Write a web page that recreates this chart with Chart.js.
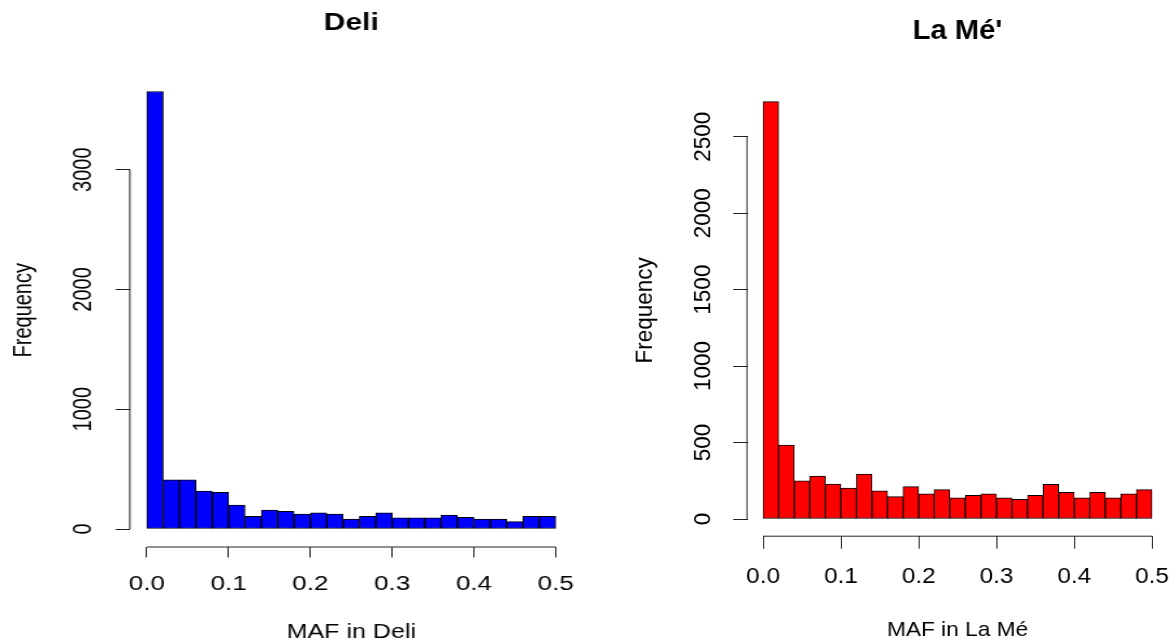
<!DOCTYPE html>
<html>
<head>
<meta charset="utf-8">
<script src="https://cdn.jsdelivr.net/npm/chart.js@4.4.1/dist/chart.umd.min.js"></script>
<style>
  html, body { margin: 0; padding: 0; background: #fff; }
  body { width: 1176px; height: 644px; position: relative; overflow: hidden; }
  .panel { position: absolute; top: 0; transform-origin: 0 0; }
  /* the saved R plots were widened when exported, text included */
  #deliPanel { left: 0; transform: scaleX(1.3); }
  #lamePanel { left: 600px; transform: scaleX(1.08); }
  canvas { display: block; }
</style>
</head>
<body>
<div class="panel" id="deliPanel"><canvas id="deliChart" width="452" height="644"></canvas></div>
<div class="panel" id="lamePanel"><canvas id="lameChart" width="534" height="644"></canvas></div>
<script>
// MAF histogram, 25 bins of width 0.02 between 0 and 0.5
const binMids = [0.01, 0.03, 0.05, 0.07, 0.09, 0.11, 0.13, 0.15, 0.17, 0.19,
                 0.21, 0.23, 0.25, 0.27, 0.29, 0.31, 0.33, 0.35, 0.37, 0.39,
                 0.41, 0.43, 0.45, 0.47, 0.49]
const deliCounts = [3653, 411, 411, 317, 306, 200, 106, 158, 147, 125,
                    136, 125, 83, 106, 136, 94, 94, 94, 117, 97,
                    83, 83, 61, 106, 106]
const lameCounts = [2729, 484, 249, 281, 229, 203, 293, 185, 146, 212,
                    164, 192, 138, 155, 164, 138, 129, 155, 227, 175,
                    138, 175, 138, 164, 192]

const mafTicks = [0, 0.1, 0.2, 0.3, 0.4, 0.5]
const mafTickLabels = ['0.0', '0.1', '0.2', '0.3', '0.4', '0.5']
const deliFreqTicks = [0, 1000, 2000, 3000]
const lameFreqTicks = [0, 500, 1000, 1500, 2000, 2500]

Chart.defaults.font.family = "'Liberation Sans', Arial, sans-serif"
Chart.defaults.color = '#000'

/* axis line only between first and last tick, like base R graphics */
const axisLines = {
    id: 'axisLines',
    afterDraw(chart) {
        const { ctx, chartArea, scales: { x, y } } = chart
        const x0 = x.getPixelForValue(x.ticks[0].value)
        const x1 = x.getPixelForValue(x.ticks[x.ticks.length - 1].value)
        const y0 = y.getPixelForValue(y.ticks[0].value)
        const y1 = y.getPixelForValue(y.ticks[y.ticks.length - 1].value)
        ctx.save()
        ctx.strokeStyle = '#222'
        ctx.lineWidth = 1
        ctx.beginPath()
        ctx.moveTo(x0, chartArea.bottom + 0.5)
        ctx.lineTo(x1, chartArea.bottom + 0.5)
        ctx.moveTo(chartArea.left - 0.5, y0)
        ctx.lineTo(chartArea.left - 0.5, y1)
        ctx.stroke()
        ctx.restore()
    }
}

function histogram(canvasId, counts, fill, o) {
    const top = Math.max(...counts)
    return new Chart(document.getElementById(canvasId), {
        type: 'bar',
        data: {
            datasets: [{
                data: binMids.map((m, i) => ({ x: m, y: counts[i] })),
                backgroundColor: fill,
                borderColor: '#000',
                borderWidth: 1,
                borderSkipped: false,
                barPercentage: 1,
                categoryPercentage: 1
            }]
        },
        options: {
            responsive: false,
            animation: false,
            layout: { padding: { left: 0, right: o.padRight, top: 0, bottom: 0 } },
            plugins: {
                legend: { display: false },
                tooltip: { enabled: false },
                title: {
                    display: true,
                    text: o.title,
                    fullSize: false,
                    color: '#000',
                    font: { size: o.titleSize, weight: 'bold' },
                    padding: o.titlePad
                }
            },
            scales: {
                x: {
                    type: 'linear',
                    offset: false,
                    min: -0.02,
                    max: 0.52,
                    afterBuildTicks: s => { s.ticks = mafTicks.map(v => ({ value: v })) },
                    afterFit: s => { s.height = o.xAxisHeight },
                    border: { display: false },
                    grid: { drawOnChartArea: false, offset: false, tickLength: o.xTickLen, color: '#222' },
                    ticks: {
                        autoSkip: false,
                        maxRotation: 0,
                        padding: 0,
                        // tall line box pushes the labels down without widening the side padding
                        font: { size: o.fontSize, lineHeight: o.xLabelLine },
                        callback: (v, i) => mafTickLabels[i]
                    },
                    title: {
                        display: true,
                        text: o.xTitle,
                        font: { size: o.xTitleSize },
                        padding: { top: 0, bottom: o.xTitlePad }
                    }
                },
                y: {
                    min: -0.04 * top,
                    max: 1.04 * top,
                    afterBuildTicks: s => { s.ticks = o.yTicks.map(v => ({ value: v })) },
                    afterFit: s => { s.width = o.yAxisWidth },
                    border: { display: false },
                    grid: { drawOnChartArea: false, tickLength: o.yTickLen, color: '#222' },
                    ticks: {
                        autoSkip: false,
                        minRotation: 90,
                        maxRotation: 90,
                        crossAlign: 'center',
                        padding: o.yLabelPad,
                        font: { size: o.fontSize },
                        callback: v => String(v)
                    },
                    title: {
                        display: true,
                        text: 'Frequency',
                        font: { size: o.fontSize },
                        padding: { top: o.yTitlePad, bottom: 0 }
                    }
                }
            }
        },
        plugins: [axisLines]
    })
}

histogram('deliChart', deliCounts, '#0000ff', {
    title: 'Deli',
    xTitle: 'MAF in Deli',
    yTicks: deliFreqTicks,
    titleSize: 23,
    titlePad: { top: 9.7, bottom: 36.7 },
    fontSize: 20,
    xTitleSize: 19.3,
    padRight: 12,
    yAxisWidth: 100.4,
    yTickLen: 11.5,
    yLabelPad: 2.6,
    yTitlePad: 6.5,
    xAxisHeight: 97.5,
    xTickLen: 11,
    xLabelLine: '53px',
    xTitlePad: 0
})

histogram('lameChart', lameCounts, '#ff0000', {
    title: "La Mé'",
    xTitle: 'MAF in La Mé',
    yTicks: lameFreqTicks,
    titleSize: 27,
    titlePad: { top: 15.2, bottom: 37.4 },
    fontSize: 22.5,
    xTitleSize: 21,
    padRight: 8.5,
    yAxisWidth: 136.6,
    yTickLen: 13.3,
    yLabelPad: 2.7,
    yTitlePad: 27.9,
    xAxisHeight: 108.3,
    xTickLen: 13,
    xLabelLine: '56px',
    xTitlePad: 1.5
})
</script>
</body>
</html>
